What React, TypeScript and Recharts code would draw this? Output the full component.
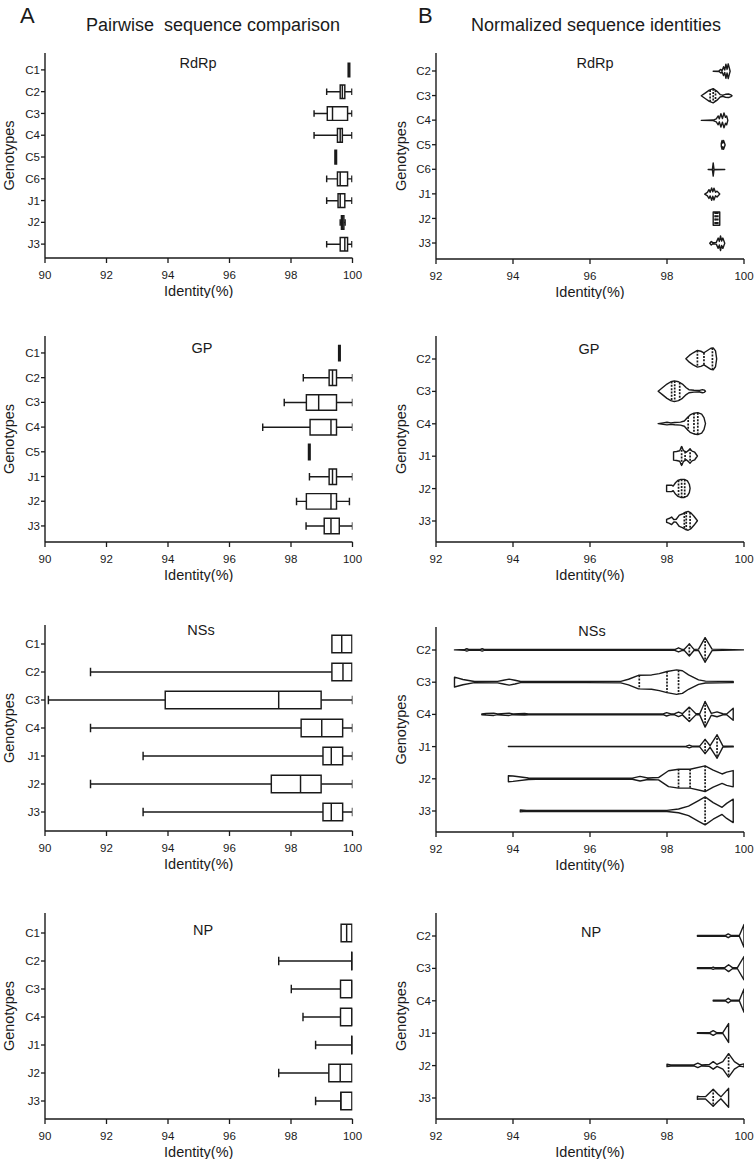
import React from 'react';
import { ComposedChart, Bar, XAxis, YAxis } from 'recharts';

const FONT = '"Liberation Sans", Arial, Helvetica, sans-serif';
const INK = '#1a1a1a';

// ---------- A: pairwise sequence comparison (box plots) ----------
const rdrpBoxGenotypes = ['C1', 'C2', 'C3', 'C4', 'C5', 'C6', 'J1', 'J2', 'J3'];
const rdrpBoxMin = [99.86, 99.16, 98.75, 98.75, 99.43, 99.16, 99.16, 99.6, 99.16];
const rdrpBoxQ1 = [99.86, 99.6, 99.18, 99.51, 99.43, 99.51, 99.53, 99.64, 99.6];
const rdrpBoxMedian = [99.88, 99.67, 99.35, 99.6, 99.45, 99.6, 99.6, 99.68, 99.75];
const rdrpBoxQ3 = [99.91, 99.75, 99.84, 99.67, 99.48, 99.84, 99.75, 99.72, 99.84];
const rdrpBoxMax = [99.91, 99.98, 99.98, 99.98, 99.48, 99.98, 99.98, 99.76, 99.98];

const gpBoxGenotypes = ['C1', 'C2', 'C3', 'C4', 'C5', 'J1', 'J2', 'J3'];
const gpBoxMin = [99.55, 98.4, 97.78, 97.08, 98.57, 98.6, 98.18, 98.49];
const gpBoxQ1 = [99.55, 99.24, 98.5, 98.62, 98.57, 99.24, 98.5, 99.08];
const gpBoxMedian = [99.57, 99.35, 98.9, 99.3, 98.6, 99.35, 99.3, 99.3];
const gpBoxQ3 = [99.6, 99.48, 99.48, 99.48, 98.62, 99.48, 99.48, 99.57];
const gpBoxMax = [99.6, 100, 100, 100, 98.62, 100, 99.9, 100];

const nssBoxGenotypes = ['C1', 'C2', 'C3', 'C4', 'J1', 'J2', 'J3'];
const nssBoxMin = [99.33, 91.48, 90.11, 91.48, 93.19, 91.48, 93.19];
const nssBoxQ1 = [99.33, 99.33, 93.91, 98.33, 99.04, 97.36, 99.04];
const nssBoxMedian = [99.65, 99.69, 97.6, 99.0, 99.31, 98.31, 99.31];
const nssBoxQ3 = [99.98, 99.98, 98.98, 99.68, 99.68, 98.98, 99.68];
const nssBoxMax = [99.98, 99.98, 100, 100, 100, 100, 100];

const npBoxGenotypes = ['C1', 'C2', 'C3', 'C4', 'J1', 'J2', 'J3'];
const npBoxMin = [99.63, 97.6, 98.01, 98.39, 98.8, 97.6, 98.8];
const npBoxQ1 = [99.63, 100, 99.61, 99.61, 100, 99.23, 99.62];
const npBoxMedian = [99.81, 100, 99.98, 99.98, 100, 99.6, 99.62];
const npBoxQ3 = [99.98, 100, 99.98, 99.98, 100, 99.98, 99.98];
const npBoxMax = [99.98, 100, 99.98, 99.98, 100, 99.98, 99.98];

// ---------- B: normalized sequence identities (violins) ----------
// each profile: [identity, relative half-width]
const rdrpViolinGenotypes = ['C2', 'C3', 'C4', 'C5', 'C6', 'J1', 'J2', 'J3'];
const rdrpViolinProfiles: [number, number][][] = [
  [[99.2, 0], [99.35, 0.02], [99.4, 0.12], [99.43, 0.03], [99.47, 0.3], [99.5, 0.08], [99.53, 0.48], [99.56, 0.12], [99.59, 0.5], [99.62, 0.2], [99.64, 0]],
  [[98.89, 0], [99.0, 0.2], [99.1, 0.38], [99.2, 0.48], [99.3, 0.3], [99.38, 0.08], [99.45, 0.04], [99.52, 0.1], [99.6, 0.12], [99.66, 0.06], [99.69, 0]],
  [[98.89, 0], [99.2, 0.02], [99.28, 0.1], [99.33, 0.3], [99.36, 0.1], [99.4, 0.45], [99.44, 0.12], [99.48, 0.5], [99.52, 0.2], [99.55, 0.3], [99.58, 0]],
  [[99.41, 0.1], [99.43, 0.3], [99.45, 0.12], [99.47, 0.3], [99.5, 0.08], [99.51, 0]],
  [[99.07, 0], [99.18, 0.02], [99.2, 0.45], [99.22, 0.02], [99.5, 0]],
  [[98.98, 0], [99.05, 0.12], [99.09, 0.3], [99.12, 0.12], [99.16, 0.42], [99.19, 0.15], [99.22, 0.4], [99.26, 0.12], [99.3, 0.2], [99.37, 0]],
  [[99.2, 0.45], [99.28, 0.45], [99.37, 0.45]],
  [[99.11, 0], [99.15, 0.12], [99.19, 0.04], [99.28, 0.06], [99.33, 0.35], [99.36, 0.12], [99.39, 0.5], [99.42, 0.15], [99.45, 0.35], [99.5, 0]],
];
const rdrpViolinQuartiles = [[], [99.12, 99.2, 99.26], [], [], [], [], [99.25, 99.28, 99.32], []];

const gpViolinGenotypes = ['C2', 'C3', 'C4', 'J1', 'J2', 'J3'];
const gpViolinProfiles: [number, number][][] = [
  [[98.49, 0], [98.58, 0.18], [98.68, 0.32], [98.79, 0.44], [98.88, 0.4], [98.96, 0.32], [99.05, 0.44], [99.14, 0.56], [99.2, 0.58], [99.26, 0.42], [99.29, 0]],
  [[97.77, 0], [97.88, 0.18], [98.0, 0.38], [98.1, 0.5], [98.19, 0.55], [98.3, 0.5], [98.4, 0.38], [98.5, 0.18], [98.57, 0.08], [98.7, 0.05], [98.85, 0.04], [98.92, 0.08], [98.97, 0.06], [99.0, 0]],
  [[97.77, 0], [97.9, 0.04], [98.0, 0.07], [98.1, 0.04], [98.2, 0.06], [98.35, 0.08], [98.45, 0.14], [98.52, 0.3], [98.6, 0.46], [98.7, 0.55], [98.8, 0.58], [98.9, 0.5], [98.96, 0.32], [99.0, 0]],
  [[98.17, 0.22], [98.25, 0.24], [98.33, 0.28], [98.38, 0.5], [98.43, 0.28], [98.5, 0.2], [98.56, 0.3], [98.6, 0.38], [98.65, 0.26], [98.72, 0.2], [98.79, 0]],
  [[97.99, 0.17], [98.12, 0.17], [98.16, 0.12], [98.22, 0.3], [98.28, 0.42], [98.36, 0.48], [98.45, 0.48], [98.53, 0.4], [98.58, 0.22], [98.6, 0]],
  [[97.99, 0.08], [98.05, 0.12], [98.12, 0.2], [98.18, 0.06], [98.24, 0.08], [98.32, 0.3], [98.4, 0.36], [98.48, 0.46], [98.55, 0.5], [98.62, 0.42], [98.7, 0.24], [98.79, 0]],
];
const gpViolinQuartiles = [
  [98.79, 98.96, 99.18], [98.12, 98.2, 98.33], [98.55, 98.7, 98.8],
  [98.38, 98.47, 98.6], [98.3, 98.38, 98.46], [98.45, 98.5, 98.6],
];

const nssViolinGenotypes = ['C2', 'C3', 'C4', 'J1', 'J2', 'J3'];
const nssViolinProfiles: [number, number][][] = [
  [[92.48, 0], [92.75, 0.02], [92.8, 0.06], [92.85, 0.02], [93.15, 0.02], [93.2, 0.06], [93.25, 0.02], [98.2, 0.02], [98.3, 0.11], [98.4, 0.02], [98.45, 0.03], [98.58, 0.32], [98.7, 0.03], [98.82, 0.04], [98.99, 0.65], [99.17, 0.04], [100, 0]],
  [[92.48, 0.26], [92.7, 0.14], [93.0, 0.03], [93.6, 0.04], [93.75, 0.1], [93.9, 0.16], [94.05, 0.1], [94.2, 0.03], [95.9, 0.03], [96.8, 0.04], [97.0, 0.15], [97.26, 0.36], [97.6, 0.38], [97.8, 0.45], [98.0, 0.56], [98.25, 0.65], [98.4, 0.6], [98.56, 0.38], [98.82, 0.12], [99.0, 0.05], [99.72, 0.03], [99.72, 0]],
  [[93.19, 0.02], [93.3, 0.04], [93.5, 0.06], [93.6, 0.02], [93.9, 0.06], [94.0, 0.02], [94.3, 0.04], [94.4, 0.02], [97.9, 0.02], [97.99, 0.09], [98.1, 0.02], [98.2, 0.03], [98.3, 0.12], [98.4, 0.03], [98.58, 0.38], [98.75, 0.03], [98.85, 0.03], [98.99, 0.68], [99.15, 0.05], [99.3, 0.13], [99.45, 0.03], [99.55, 0.02], [99.72, 0.32], [99.72, 0]],
  [[93.88, 0], [98.5, 0.02], [98.58, 0.07], [98.65, 0.02], [98.85, 0.02], [98.99, 0.38], [99.12, 0.04], [99.3, 0.62], [99.45, 0.03], [99.72, 0.02], [99.72, 0]],
  [[93.88, 0.16], [94.0, 0.14], [94.4, 0.04], [94.6, 0.03], [97.1, 0.03], [97.3, 0.12], [97.5, 0.04], [97.78, 0.06], [98.04, 0.42], [98.3, 0.5], [98.6, 0.5], [98.99, 0.68], [99.2, 0.45], [99.43, 0.25], [99.55, 0.35], [99.72, 0.43], [99.72, 0]],
  [[94.19, 0.05], [94.35, 0.02], [98.0, 0.03], [98.3, 0.1], [98.56, 0.25], [98.82, 0.55], [98.99, 0.74], [99.2, 0.44], [99.43, 0.19], [99.55, 0.4], [99.72, 0.62], [99.72, 0]],
];
const nssViolinQuartiles = [
  [98.58, 98.99], [97.28, 98.0, 98.3], [98.58, 98.99],
  [98.99, 99.3], [98.3, 98.6, 98.99], [98.99],
];

const npViolinGenotypes = ['C2', 'C3', 'C4', 'J1', 'J2', 'J3'];
const npViolinProfiles: [number, number][][] = [
  [[98.79, 0.02], [99.52, 0.02], [99.59, 0.1], [99.66, 0.02], [99.88, 0.02], [100, 0.6], [100, 0]],
  [[98.79, 0.02], [99.15, 0.02], [99.2, 0.06], [99.25, 0.02], [99.5, 0.03], [99.6, 0.18], [99.7, 0.03], [99.83, 0.03], [100, 0.62], [100, 0]],
  [[99.2, 0.02], [99.52, 0.02], [99.59, 0.12], [99.66, 0.02], [99.88, 0.02], [100, 0.62], [100, 0]],
  [[98.79, 0.02], [99.12, 0.03], [99.2, 0.12], [99.28, 0.03], [99.45, 0.02], [99.6, 0.5], [99.6, 0]],
  [[98.0, 0.06], [98.1, 0.03], [98.7, 0.03], [98.8, 0.12], [98.9, 0.03], [99.1, 0.05], [99.2, 0.2], [99.3, 0.05], [99.45, 0.2], [99.6, 0.62], [99.75, 0.2], [99.88, 0.03], [100, 0.08], [100, 0]],
  [[98.79, 0.08], [98.85, 0.06], [99.0, 0.06], [99.2, 0.45], [99.32, 0.2], [99.4, 0.05], [99.6, 0.5], [99.6, 0]],
];
const npViolinQuartiles = [[], [], [], [], [99.6], [99.2]];

const boxTicks = [90, 92, 94, 96, 98, 100];
const violinTicks = [92, 94, 96, 98, 100];

function boxRows(names: string[], mn: number[], q1: number[], md: number[], q3: number[], mx: number[]) {
  return names.map((name, i) => ({
    name, min: mn[i], q1: q1[i], median: md[i], q3: q3[i], max: mx[i], range: [mn[i], mx[i]],
  }));
}

function violinRows(names: string[], profiles: [number, number][][], quarts: number[][]) {
  return names.map((name, i) => ({
    name,
    profile: profiles[i],
    quart: quarts[i],
    range: [profiles[i][0][0], profiles[i][profiles[i].length - 1][0]],
  }));
}

function BoxShape(props: any) {
  const { x, y, width, height, payload } = props;
  const lo = payload.min;
  const hi = payload.max;
  const px = (v: number) => (hi > lo ? x + ((v - lo) / (hi - lo)) * width : x);
  const cy = y + height / 2;
  const bh = height * 0.31;
  const ch = height * 0.15;
  let x1 = px(payload.q1);
  let x2 = px(payload.q3);
  if (x2 - x1 < 1.6) {
    const m = (x1 + x2) / 2;
    x1 = m - 0.8;
    x2 = m + 0.8;
  }
  const xm = px(payload.median);
  const xa = px(lo);
  const xb = px(hi);
  return (
    <g stroke={INK} strokeWidth={1.45} fill="none">
      {xa < x1 - 0.5 && <path d={`M${xa},${cy}H${x1}M${xa},${cy - ch}V${cy + ch}`} />}
      {xb > x2 + 0.5 && <path d={`M${x2},${cy}H${xb}M${xb},${cy - ch}V${cy + ch}`} />}
      <path d={`M${x1},${cy - bh}H${x2}V${cy + bh}H${x1}Z`} fill="#fff" />
      <path d={`M${xm},${cy - bh}V${cy + bh}`} />
    </g>
  );
}

function ViolinShape(props: any) {
  const { x, y, width, height, payload } = props;
  const prof: [number, number][] = payload.profile;
  const lo = prof[0][0];
  const hi = prof[prof.length - 1][0];
  const px = (v: number) => x + ((v - lo) / (hi - lo)) * width;
  const cy = y + height / 2;
  const half = (height / 2) * 1.18;
  const top = prof.map(([v, d]) => `${px(v).toFixed(2)},${(cy - d * half).toFixed(2)}`);
  const bot = prof
    .slice()
    .reverse()
    .map(([v, d]) => `${px(v).toFixed(2)},${(cy + d * half).toFixed(2)}`);
  const widthAt = (v: number) => {
    for (let i = 1; i < prof.length; i++) {
      const [v0, d0] = prof[i - 1];
      const [v1, d1] = prof[i];
      if (v >= v0 && v <= v1) return v1 === v0 ? Math.max(d0, d1) : d0 + ((v - v0) / (v1 - v0)) * (d1 - d0);
    }
    return 0;
  };
  return (
    <g>
      <path
        d={`M${top.join('L')}L${bot.join('L')}Z`}
        fill="#fff"
        stroke={INK}
        strokeWidth={1.4}
        strokeLinejoin="round"
      />
      {payload.quart.map((q: number, i: number) => {
        const w = widthAt(q) * half;
        return (
          <line key={i} x1={px(q)} x2={px(q)} y1={cy - w} y2={cy + w} stroke={INK} strokeWidth={1.7} strokeDasharray="2 1.3" />
        );
      })}
    </g>
  );
}

const tickStyle = { fontSize: 11.5, fill: INK, fontFamily: FONT };

function Panel(p: {
  data: any[];
  kind: 'box' | 'violin';
  left: number;
  width: number;
  plotTop: number;
  plotBottom: number;
  yAxisWidth: number;
  marginRight: number;
  padTop: number;
  padBottom: number;
  labelOffset: number;
}) {
  const mt = 4;
  const xh = 40;
  const height = mt + (p.plotBottom - p.plotTop) + xh;
  const isBox = p.kind === 'box';
  return (
    <div style={{ position: 'absolute', left: p.left, top: p.plotTop - mt }}>
      <ComposedChart
        layout="vertical"
        width={p.width}
        height={height}
        data={p.data}
        margin={{ top: mt, right: p.marginRight, bottom: 0, left: 0 }}
        barCategoryGap={0}
      >
        <XAxis
          type="number"
          domain={isBox ? [90, 100] : [92, 100]}
          ticks={isBox ? boxTicks : violinTicks}
          allowDataOverflow
          interval={0}
          height={xh}
          tickSize={5}
          tickMargin={8}
          axisLine={{ stroke: INK, strokeWidth: 1.4 }}
          tickLine={{ stroke: INK, strokeWidth: 1.3 }}
          tick={tickStyle}
          label={{ value: 'Identity(%)', position: 'insideBottom', offset: 2, fill: INK, fontSize: 14.5, fontFamily: FONT }}
        />
        <YAxis
          type="category"
          dataKey="name"
          width={p.yAxisWidth}
          padding={{ top: p.padTop, bottom: p.padBottom }}
          interval={0}
          tickSize={4}
          tickMargin={1}
          axisLine={{ stroke: INK, strokeWidth: 1.4 }}
          tickLine={{ stroke: INK, strokeWidth: 1.3 }}
          tick={tickStyle}
          label={{
            value: 'Genotypes',
            angle: -90,
            position: 'insideLeft',
            offset: p.labelOffset,
            fill: INK,
            fontSize: 14.5,
            fontFamily: FONT,
            style: { textAnchor: 'middle' },
          }}
        />
        <Bar dataKey="range" isAnimationActive={false} shape={isBox ? BoxShape : ViolinShape} />
      </ComposedChart>
    </div>
  );
}

const leftCol = { left: 0, width: 375, yAxisWidth: 45, marginRight: 22.5, labelOffset: 9 };
const rightCol = { left: 375, width: 380, yAxisWidth: 61, marginRight: 11, labelOffset: 26 };

export default function App() {
  const t = { fontFamily: FONT, fill: INK } as const;
  return (
    <div style={{ position: 'absolute', left: 0, top: 0, width: 755, height: 1165, background: '#fff', fontFamily: FONT }}>
      <Panel {...leftCol} kind="box" plotTop={53} plotBottom={258} padTop={6} padBottom={3}
        data={boxRows(rdrpBoxGenotypes, rdrpBoxMin, rdrpBoxQ1, rdrpBoxMedian, rdrpBoxQ3, rdrpBoxMax)} />
      <Panel {...leftCol} kind="box" plotTop={336} plotBottom={542} padTop={4.6} padBottom={3.7}
        data={boxRows(gpBoxGenotypes, gpBoxMin, gpBoxQ1, gpBoxMedian, gpBoxQ3, gpBoxMax)} />
      <Panel {...leftCol} kind="box" plotTop={625} plotBottom={831} padTop={5} padBottom={5}
        data={boxRows(nssBoxGenotypes, nssBoxMin, nssBoxQ1, nssBoxMedian, nssBoxQ3, nssBoxMax)} />
      <Panel {...leftCol} kind="box" plotTop={913} plotBottom={1119} padTop={6} padBottom={4}
        data={boxRows(npBoxGenotypes, npBoxMin, npBoxQ1, npBoxMedian, npBoxQ3, npBoxMax)} />

      <Panel {...rightCol} kind="violin" plotTop={53} plotBottom={259} padTop={5.7} padBottom={3.7}
        data={violinRows(rdrpViolinGenotypes, rdrpViolinProfiles, rdrpViolinQuartiles)} />
      <Panel {...rightCol} kind="violin" plotTop={336} plotBottom={542} padTop={6.8} padBottom={4.8}
        data={violinRows(gpViolinGenotypes, gpViolinProfiles, gpViolinQuartiles)} />
      <Panel {...rightCol} kind="violin" plotTop={627} plotBottom={832} padTop={6.9} padBottom={4.9}
        data={violinRows(nssViolinGenotypes, nssViolinProfiles, nssViolinQuartiles)} />
      <Panel {...rightCol} kind="violin" plotTop={913} plotBottom={1119} padTop={6.8} padBottom={4.8}
        data={violinRows(npViolinGenotypes, npViolinProfiles, npViolinQuartiles)} />

      <svg width={755} height={1165} style={{ position: 'absolute', left: 0, top: 0, pointerEvents: 'none' }}>
        <text x={20} y={23} fontSize={22} {...t}>A</text>
        <text x={418} y={23} fontSize={22} {...t}>B</text>
        <text x={213} y={31} fontSize={18} textAnchor="middle" style={{ whiteSpace: 'pre' }} {...t}>Pairwise  sequence comparison</text>
        <text x={596} y={31} fontSize={18} textAnchor="middle" {...t}>Normalized sequence identities</text>

        <text x={198} y={68} fontSize={14.5} textAnchor="middle" {...t}>RdRp</text>
        <text x={202} y={353} fontSize={14.5} textAnchor="middle" {...t}>GP</text>
        <text x={201} y={635} fontSize={14.5} textAnchor="middle" {...t}>NSs</text>
        <text x={203} y={935} fontSize={14.5} textAnchor="middle" {...t}>NP</text>

        <text x={595} y={68} fontSize={14.5} textAnchor="middle" {...t}>RdRp</text>
        <text x={589} y={354} fontSize={14.5} textAnchor="middle" {...t}>GP</text>
        <text x={592} y={636} fontSize={14.5} textAnchor="middle" {...t}>NSs</text>
        <text x={591} y={937} fontSize={14.5} textAnchor="middle" {...t}>NP</text>
      </svg>
    </div>
  );
}
